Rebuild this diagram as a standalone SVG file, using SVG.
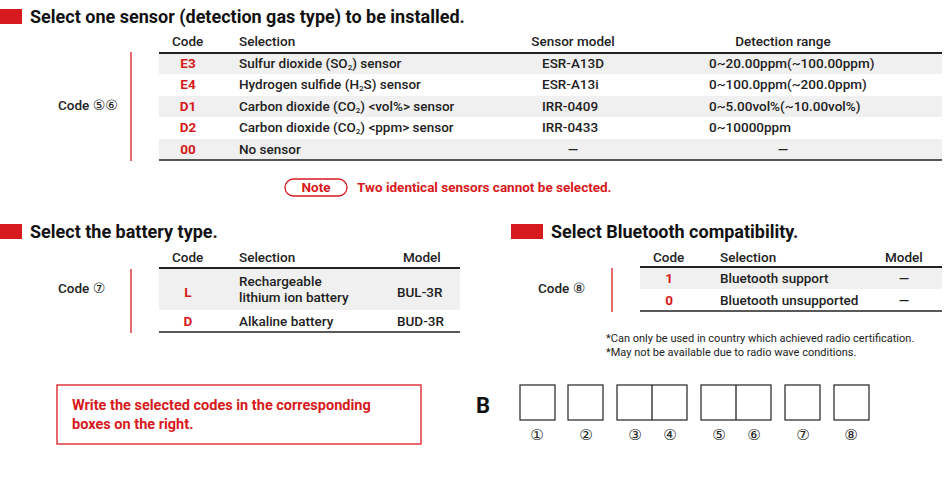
<svg xmlns="http://www.w3.org/2000/svg" width="951" height="479" viewBox="0 0 951 479">
<style>
text{font-family:Roboto,"Liberation Sans",sans-serif;font-weight:500;font-size:13.5px;fill:#222}
.h{font-size:18px;font-weight:700;fill:#111}
.r{fill:#d71920;font-weight:700}
.c{text-anchor:middle}
.sh{fill:#f0f0f0}
.rl{stroke:#d71920;stroke-width:1.3}
.tl{stroke:#222;stroke-width:2}
.bl{stroke:#222;stroke-width:1.3}
.box{fill:#fff;stroke:#222;stroke-width:1.2}
.sm{font-size:11px;font-weight:400}
.ins{font-size:14.5px}
.cn{font-family:"DejaVu Sans",sans-serif;font-weight:400;font-size:15px}
.cs{font-family:"DejaVu Sans",sans-serif;font-weight:400;font-size:14px}
.big{font-size:22px;font-weight:700;fill:#111}
</style>
<rect width="951" height="479" fill="#fff"/>
<g id="sensor">
<rect x="0" y="9" width="22" height="15" fill="#d71920"/>
<text class="h" x="30" y="23">Select one sensor (detection gas type) to be installed.</text>
<text x="172" y="46">Code</text><text x="239" y="46">Selection</text>
<text class="c" x="573" y="46">Sensor model</text><text class="c" x="783" y="46">Detection range</text>
<rect class="sh" x="159" y="53" width="783" height="21"/>
<rect class="sh" x="159" y="96" width="783" height="21"/>
<rect class="sh" x="159" y="139" width="783" height="21"/>
<line class="tl" x1="159" y1="53" x2="942" y2="53"/>
<line class="bl" x1="159" y1="160" x2="942" y2="160"/>
<line class="rl" x1="131" y1="52" x2="131" y2="161"/>
<text x="58" y="110">Code <tspan class="cs">⑤⑥</tspan></text>
<text class="r c" x="188" y="68">E3</text><text x="239" y="68">Sulfur dioxide (SO<tspan font-size="8" dy="2">2</tspan><tspan dy="-2">) sensor</tspan></text><text x="542" y="68">ESR-A13D</text><text x="709" y="68">0~20.00ppm(~100.00ppm)</text>
<text class="r c" x="188" y="89">E4</text><text x="239" y="89">Hydrogen sulfide (H<tspan font-size="8" dy="2">2</tspan><tspan dy="-2">S) sensor</tspan></text><text x="542" y="89">ESR-A13i</text><text x="709" y="89">0~100.0ppm(~200.0ppm)</text>
<text class="r c" x="188" y="111">D1</text><text x="239" y="111">Carbon dioxide (CO<tspan font-size="8" dy="2">2</tspan><tspan dy="-2">) &lt;vol%&gt; sensor</tspan></text><text x="542" y="111">IRR-0409</text><text x="709" y="111">0~5.00vol%(~10.00vol%)</text>
<text class="r c" x="188" y="132">D2</text><text x="239" y="132">Carbon dioxide (CO<tspan font-size="8" dy="2">2</tspan><tspan dy="-2">) &lt;ppm&gt; sensor</tspan></text><text x="542" y="132">IRR-0433</text><text x="709" y="132">0~10000ppm</text>
<text class="r c" x="188" y="154">00</text><text x="239" y="154">No sensor</text><text class="c" x="573" y="154">—</text><text class="c" x="783" y="154">—</text>
<rect x="285" y="179" width="62" height="17" rx="8.5" fill="none" stroke="#d71920" stroke-width="1.3"/>
<text class="r c" x="316" y="192">Note</text>
<text class="r" x="357" y="192">Two identical sensors cannot be selected.</text>
</g>
<g id="battery">
<rect x="0" y="224" width="22" height="15" fill="#d71920"/>
<text class="h" x="30" y="238">Select the battery type.</text>
<text x="172" y="262">Code</text><text x="239" y="262">Selection</text><text x="403" y="262">Model</text>
<rect class="sh" x="159" y="268" width="301" height="42"/>
<line class="tl" x1="159" y1="268" x2="460" y2="268"/>
<line class="bl" x1="159" y1="332" x2="460" y2="332"/>
<line class="rl" x1="131" y1="269" x2="131" y2="333"/>
<text x="58" y="293">Code <tspan class="cs">⑦</tspan></text>
<text class="r c" x="188" y="297">L</text><text x="239" y="286">Rechargeable</text><text x="239" y="302">lithium ion battery</text><text x="397" y="297">BUL-3R</text>
<text class="r c" x="188" y="326">D</text><text x="239" y="326">Alkaline battery</text><text x="397" y="326">BUD-3R</text>
</g>
<g id="bluetooth">
<rect x="511" y="224" width="32" height="15" fill="#d71920"/>
<text class="h" x="551" y="238">Select Bluetooth compatibility.</text>
<text x="653" y="262">Code</text><text x="720" y="262">Selection</text><text x="885" y="262">Model</text>
<rect class="sh" x="640" y="267" width="302" height="22"/>
<line class="tl" x1="640" y1="267" x2="942" y2="267"/>
<line class="bl" x1="640" y1="311" x2="942" y2="311"/>
<line class="rl" x1="612" y1="268" x2="612" y2="312"/>
<text x="538" y="293">Code <tspan class="cs">⑧</tspan></text>
<text class="r c" x="669" y="283">1</text><text x="720" y="283">Bluetooth support</text><text class="c" x="904" y="283">—</text>
<text class="r c" x="669" y="305">0</text><text x="720" y="305">Bluetooth unsupported</text><text class="c" x="904" y="305">—</text>
<text class="sm" x="606" y="342">*Can only be used in country which achieved radio certification.</text>
<text class="sm" x="606" y="356">*May not be available due to radio wave conditions.</text>
</g>
<g id="instruction">
<rect x="57" y="385" width="364" height="59" fill="#fff" stroke="#d71920" stroke-width="1.3"/>
<text class="r ins" x="72" y="410">Write the selected codes in the corresponding</text>
<text class="r ins" x="72" y="429">boxes on the right.</text>
</g>
<g id="boxes">
<text class="big" x="476" y="413">B</text>
<rect class="box" x="520" y="385" width="35" height="35"/>
<rect class="box" x="568" y="385" width="35" height="35"/>
<rect class="box" x="617" y="385" width="70" height="35"/><line class="bl" x1="652" y1="385" x2="652" y2="420" stroke-width="1"/>
<rect class="box" x="701" y="385" width="70" height="35"/><line class="bl" x1="736" y1="385" x2="736" y2="420" stroke-width="1"/>
<rect class="box" x="785" y="385" width="35" height="35"/>
<rect class="box" x="834" y="385" width="35" height="35"/>
<text class="c cn" x="537" y="440">①</text><text class="c cn" x="586" y="440">②</text>
<text class="c cn" x="635" y="440">③</text><text class="c cn" x="670" y="440">④</text>
<text class="c cn" x="719" y="440">⑤</text><text class="c cn" x="754" y="440">⑥</text>
<text class="c cn" x="803" y="440">⑦</text><text class="c cn" x="851" y="440">⑧</text>
</g>
</svg>
